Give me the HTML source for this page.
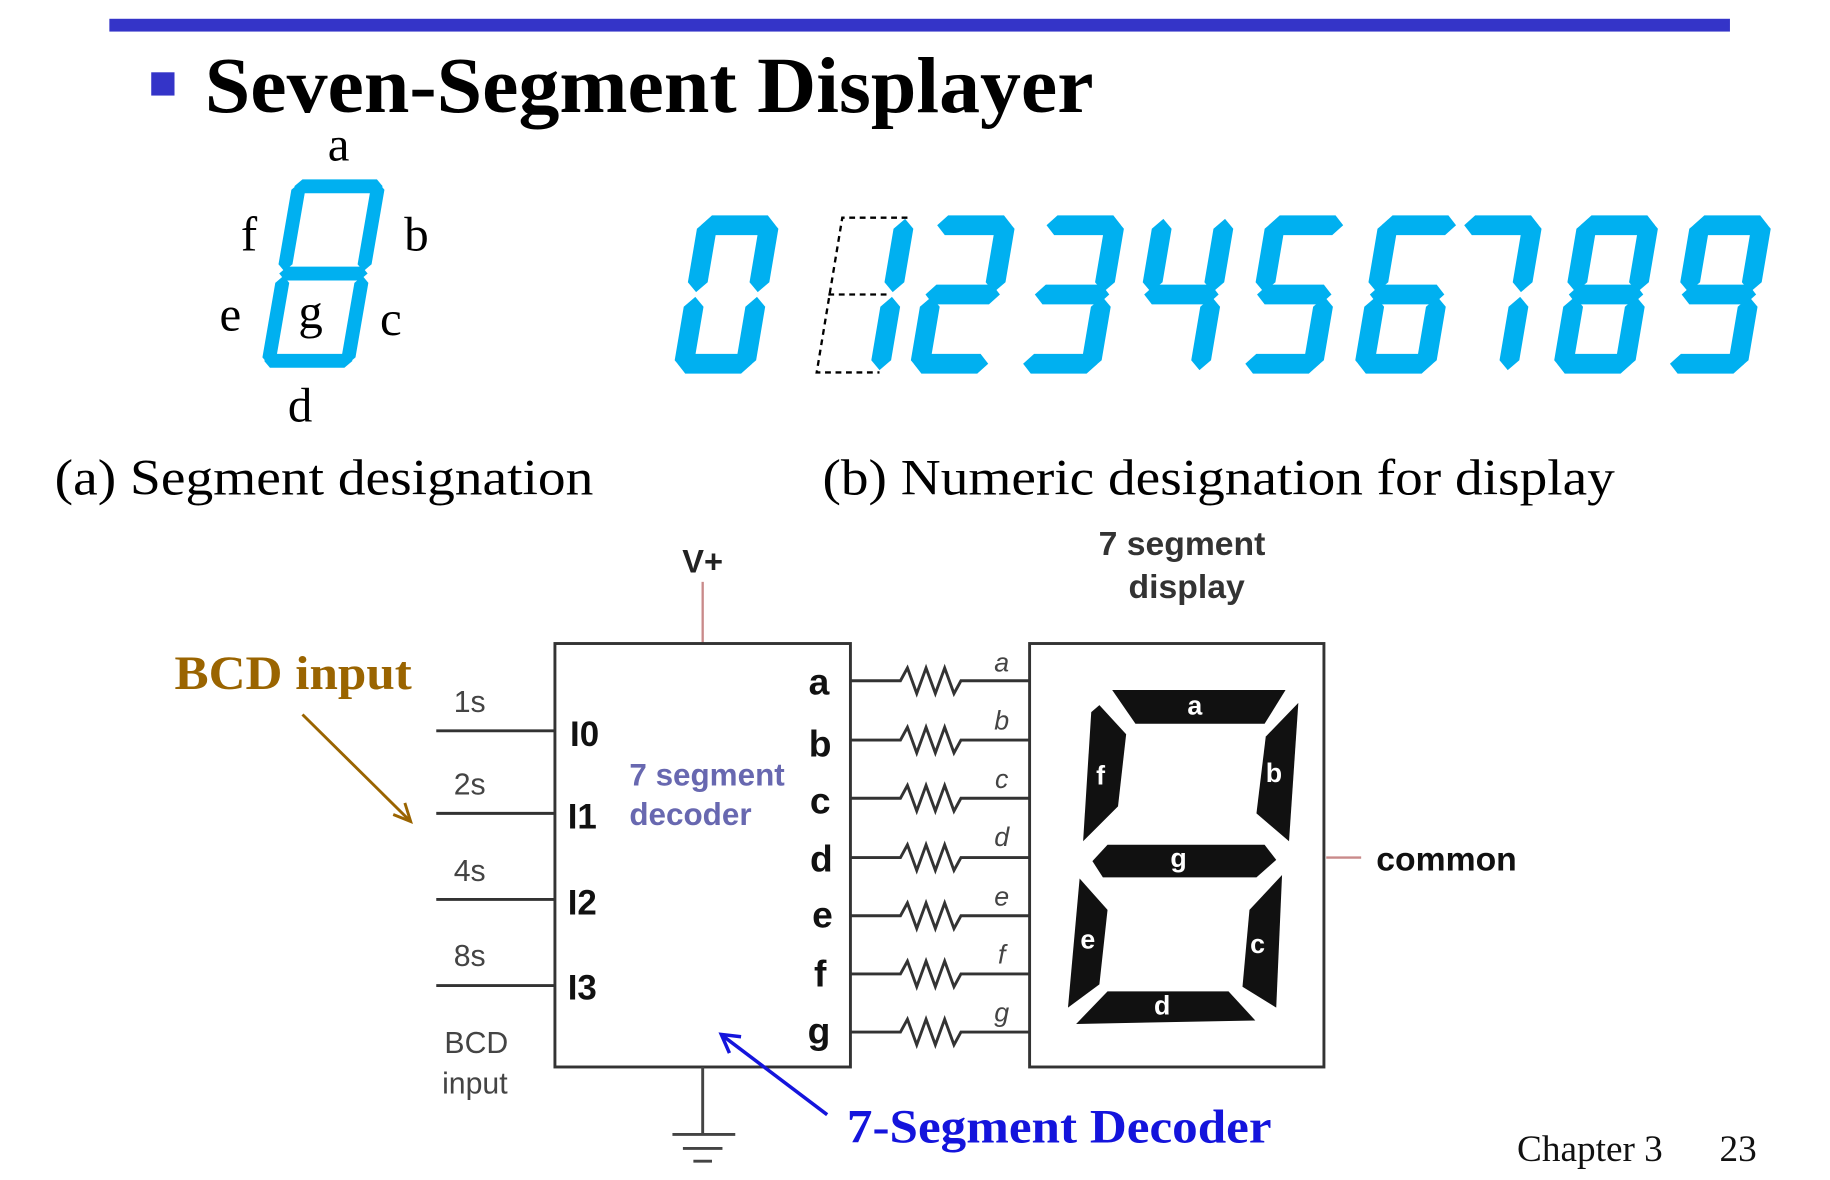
<!DOCTYPE html>
<html><head><meta charset="utf-8"><style>
html,body{margin:0;padding:0;background:#fff;}
svg{display:block;}
.ser{font-family:"Liberation Serif",serif;}
.san{font-family:"Liberation Sans",sans-serif;}
</style></head><body>
<svg width="1830" height="1180" viewBox="0 0 1573 1014" xmlns="http://www.w3.org/2000/svg">
<defs>
<g id="sa"><polygon points="3,8.5 11,0 59,0 67,8.5 59,17 11,17"/></g>
<g id="sg"><polygon points="3,68 11,59.5 59,59.5 67,68 59,76.5 11,76.5"/></g>
<g id="sd"><polygon points="3,127.5 11,119 59,119 67,127.5 59,136 11,136"/></g>
<g id="sf"><polygon points="8.5,3 17,11.5 17,57.5 8.5,66 0,57.5 0,11.5"/></g>
<g id="se"><polygon points="8.5,70 17,78.5 17,124.5 8.5,133 0,124.5 0,78.5"/></g>
<g id="sb"><polygon points="61.5,3 70,11.5 70,57.5 61.5,66 53,57.5 53,11.5"/></g>
<g id="sc"><polygon points="61.5,70 70,78.5 70,124.5 61.5,133 53,124.5 53,78.5"/></g>
</defs>

<rect x="94" y="16" width="1393" height="11" fill="#3434c8"/>
<rect x="130" y="62" width="20" height="20" fill="#3434c8"/>
<text x="176" y="96" class="ser" font-size="68" font-weight="bold" textLength="764" lengthAdjust="spacingAndGlyphs">Seven-Segment Displayer</text>

<g fill="#00b0f0" transform="translate(252,154) skewX(-9.8)">
<polygon points="2,6 8,0 72,0 78,6 72,12 8,12"/>
<polygon points="2,81 8,75 72,75 78,81 72,87 8,87"/>
<polygon points="2,156 8,150 72,150 78,156 72,162 8,162"/>
<polygon points="6,3 12,9 12,73 6,79 0,73 0,9"/>
<polygon points="6,83 12,89 12,153 6,159 0,153 0,89"/>
<polygon points="74,3 80,9 80,73 74,79 68,73 68,9"/>
<polygon points="74,83 80,89 80,153 74,159 68,153 68,89"/>
</g>
<g class="ser" font-size="42" text-anchor="middle">
<text x="291" y="138">a</text>
<text x="214" y="215">f</text>
<text x="358" y="215">b</text>
<text x="198" y="284">e</text>
<text x="267" y="282">g</text>
<text x="336" y="288">c</text>
<text x="258" y="362">d</text>
</g>
<text x="47" y="425" class="ser" font-size="44" textLength="463" lengthAdjust="spacingAndGlyphs">(a) Segment designation</text>
<text x="707" y="425" class="ser" font-size="44" textLength="681" lengthAdjust="spacingAndGlyphs">(b) Numeric designation for display</text>

<g fill="#00b0f0">
<g transform="translate(601,185) skewX(-9.6)"><use href="#sa"/><use href="#sb"/><use href="#sc"/><use href="#sd"/><use href="#se"/><use href="#sf"/></g>
<g transform="translate(717,185) skewX(-9.6)"><use href="#sb"/><use href="#sc"/></g>
<g transform="translate(804,185) skewX(-9.6)"><use href="#sa"/><use href="#sb"/><use href="#sg"/><use href="#se"/><use href="#sd"/></g>
<g transform="translate(898,185) skewX(-9.6)"><use href="#sa"/><use href="#sb"/><use href="#sg"/><use href="#sc"/><use href="#sd"/></g>
<g transform="translate(992,185) skewX(-9.6)"><use href="#sf"/><use href="#sg"/><use href="#sb"/><use href="#sc"/></g>
<g transform="translate(1089,185) skewX(-9.6)"><use href="#sa"/><use href="#sf"/><use href="#sg"/><use href="#sc"/><use href="#sd"/></g>
<g transform="translate(1186,185) skewX(-9.6)"><use href="#sa"/><use href="#sf"/><use href="#sg"/><use href="#se"/><use href="#sc"/><use href="#sd"/></g>
<g transform="translate(1257,185) skewX(-9.6)"><use href="#sa"/><use href="#sb"/><use href="#sc"/></g>
<g transform="translate(1357,185) skewX(-9.6)"><use href="#sa"/><use href="#sb"/><use href="#sc"/><use href="#sd"/><use href="#se"/><use href="#sf"/><use href="#sg"/></g>
<g transform="translate(1454,185) skewX(-9.6)"><use href="#sa"/><use href="#sb"/><use href="#sc"/><use href="#sd"/><use href="#sf"/><use href="#sg"/></g>
</g>
<g fill="none" stroke="#000" stroke-width="2" stroke-dasharray="5,4">
<polyline points="780,187 724,187 702,320 756,320"/>
<line x1="712" y1="253" x2="766" y2="253"/>
</g>

<text x="604" y="492" class="san" font-size="28" font-weight="bold" text-anchor="middle" fill="#222">V+</text>
<line x1="604" y1="500" x2="604" y2="553" stroke="#c98a8a" stroke-width="2"/>
<rect x="477" y="553" width="254" height="364" fill="none" stroke="#333" stroke-width="2.5"/>
<g stroke="#333" stroke-width="2.5">
<line x1="375" y1="628" x2="477" y2="628"/>
<line x1="375" y1="699" x2="477" y2="699"/>
<line x1="375" y1="773" x2="477" y2="773"/>
<line x1="375" y1="847" x2="477" y2="847"/>
</g>
<g class="san" font-size="26" fill="#444">
<text x="390" y="612">1s</text>
<text x="390" y="683">2s</text>
<text x="390" y="757">4s</text>
<text x="390" y="830">8s</text>
<text x="382" y="905">BCD</text>
<text x="380" y="940">input</text>
</g>
<g class="san" font-size="30" font-weight="bold" fill="#111">
<text x="490" y="641">I0</text>
<text x="488" y="712">I1</text>
<text x="488" y="786">I2</text>
<text x="488" y="859">I3</text>
</g>
<g class="san" font-size="27" font-weight="bold" fill="#6868b0">
<text x="541" y="675">7 segment</text>
<text x="541" y="709">decoder</text>
</g>
<g class="san" font-size="32" font-weight="bold" fill="#111" text-anchor="middle">
<text x="704" y="597">a</text>
<text x="705" y="650">b</text>
<text x="705" y="699">c</text>
<text x="706" y="749">d</text>
<text x="707" y="797">e</text>
<text x="705" y="848">f</text>
<text x="704" y="897">g</text>
</g>
<g fill="none" stroke="#333" stroke-width="2.5">
<path d="M731,585 H774 l6,-11 l8,22 l8,-22 l8,22 l8,-22 l8,22 l6,-11 H885"/>
<path d="M731,636 H774 l6,-11 l8,22 l8,-22 l8,22 l8,-22 l8,22 l6,-11 H885"/>
<path d="M731,686 H774 l6,-11 l8,22 l8,-22 l8,22 l8,-22 l8,22 l6,-11 H885"/>
<path d="M731,737 H774 l6,-11 l8,22 l8,-22 l8,22 l8,-22 l8,22 l6,-11 H885"/>
<path d="M731,787 H774 l6,-11 l8,22 l8,-22 l8,22 l8,-22 l8,22 l6,-11 H885"/>
<path d="M731,837 H774 l6,-11 l8,22 l8,-22 l8,22 l8,-22 l8,22 l6,-11 H885"/>
<path d="M731,887 H774 l6,-11 l8,22 l8,-22 l8,22 l8,-22 l8,22 l6,-11 H885"/>
</g>
<g class="san" font-size="23" font-style="italic" fill="#444" text-anchor="middle">
<text x="861" y="577">a</text>
<text x="861" y="627">b</text>
<text x="861" y="677">c</text>
<text x="861" y="727">d</text>
<text x="861" y="778">e</text>
<text x="861" y="828">f</text>
<text x="861" y="878">g</text>
</g>
<rect x="885" y="553" width="253" height="364" fill="none" stroke="#333" stroke-width="2.5"/>
<g fill="#111">
<polygon points="956,593 1105,593 1087,622 976,622"/>
<polygon points="938,612 945,606 968,631 961,693 931,723"/>
<polygon points="1116,604 1108,723 1080,699 1088,633"/>
<polygon points="939,740 952,726 1087,726 1097,739 1080,754 948,754"/>
<polygon points="928,755 952,782 945,846 918,866"/>
<polygon points="1102,752 1097,866 1068,848 1074,782"/>
<polygon points="925,880 952,852 1056,852 1079,877"/>
</g>
<g class="san" font-size="23" font-weight="bold" fill="#fff" text-anchor="middle">
<text x="1027" y="614">a</text>
<text x="946" y="674">f</text>
<text x="1095" y="672">b</text>
<text x="1013" y="745">g</text>
<text x="935" y="815">e</text>
<text x="1081" y="819">c</text>
<text x="999" y="872">d</text>
</g>
<g class="san" font-size="29" font-weight="bold" fill="#333" text-anchor="middle">
<text x="1016" y="477">7 segment</text>
<text x="1020" y="514">display</text>
</g>
<line x1="1140" y1="737" x2="1170" y2="737" stroke="#c98a8a" stroke-width="2"/>
<text x="1183" y="748" class="san" font-size="29" font-weight="bold" fill="#111">common</text>

<text x="150" y="592" class="ser" font-size="41" font-weight="bold" fill="#9a6400" textLength="204" lengthAdjust="spacingAndGlyphs">BCD input</text>
<g stroke="#9a6400" stroke-width="2.5" fill="none">
<line x1="260" y1="614" x2="352" y2="705"/>
<polyline points="338,700 353,706 348,690"/>
</g>

<g stroke="#444" stroke-width="2.5">
<line x1="604" y1="917" x2="604" y2="975"/>
<line x1="578" y1="975" x2="632" y2="975"/>
<line x1="587" y1="987" x2="621" y2="987"/>
<line x1="596" y1="998" x2="612" y2="998"/>
</g>
<g stroke="#1414dc" stroke-width="3" fill="none">
<line x1="711" y1="958" x2="621" y2="890"/>
<polyline points="627,905 620,889 637,891"/>
</g>
<text x="728" y="982" class="ser" font-size="41" font-weight="bold" fill="#1414dc" textLength="365" lengthAdjust="spacingAndGlyphs">7-Segment Decoder</text>

<text x="1304" y="998" class="ser" font-size="32" fill="#111">Chapter 3</text>
<text x="1478" y="998" class="ser" font-size="32" fill="#111">23</text>
</svg>
</body></html>
